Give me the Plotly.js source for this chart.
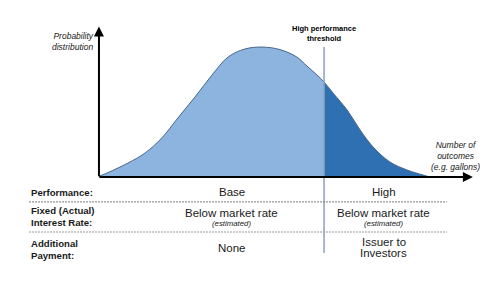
<!DOCTYPE html>
<html>
<head>
<meta charset="utf-8">
<script src="https://cdn.plot.ly/plotly-3.0.1.min.js"></script>
<style>html,body{margin:0;padding:0;background:#fff;}#chart{width:486px;height:296px;}</style>
</head>
<body>
<div id="chart"></div>
<script>
// Outcomes (x) and probability density (y)
const outcomes = [0, 1.6, 7.8, 12.4, 16.9, 21.2, 25.8, 30.4, 34.7, 39.2, 43.8, 48.7, 53.2, 55.9, 58.6, 60.5, 62.9, 66.7, 70.2, 73.7, 78.2, 82.8, 87.1, 89.0];
const probability = [0.005, 0.02, 0.092, 0.158, 0.257, 0.388, 0.526, 0.671, 0.789, 0.842, 0.855, 0.838, 0.789, 0.730, 0.671, 0.625, 0.553, 0.441, 0.309, 0.197, 0.099, 0.046, 0.013, 0.0];
const threshold = 60.5;

const rowLabels = ["Performance:", "Fixed (Actual)<br>Interest Rate:", "Additional<br>Payment:"];
const columnHeads = ["Base", "High"];
const rateText = ["Below market rate", "Below market rate"];
const rateNote = ["(estimated)", "(estimated)"];
const paymentText = [["None"], ["Issuer to", "Investors"]];

const baseX = [], baseY = [], highX = [], highY = [];
outcomes.forEach((x, i) => {
  if (x <= threshold) { baseX.push(x); baseY.push(probability[i]); }
  if (x >= threshold) { highX.push(x); highY.push(probability[i]); }
});

const traces = [
  {x: baseX, y: baseY, type: 'scatter', mode: 'lines', fill: 'tozeroy',
   fillcolor: '#8db4df', line: {color: '#8db4df', width: 0, shape: 'spline', smoothing: 1}, hoverinfo: 'skip'},
  {x: highX, y: highY, type: 'scatter', mode: 'lines', fill: 'tozeroy',
   fillcolor: '#2f70b3', line: {color: '#2f70b3', width: 0, shape: 'spline', smoothing: 1}, hoverinfo: 'skip'},
  {x: outcomes, y: probability, type: 'scatter', mode: 'lines',
   line: {color: '#46678e', width: 1, shape: 'spline', smoothing: 1}, hoverinfo: 'skip'}
];

const ink = '#1a1a1a';
const fam = 'Liberation Sans, Arial, sans-serif';
const colX = [35.75, 76.6];
const ann = [];
// axes arrows
ann.push({x: 0, y: 0.99, ax: 0, ay: -0.005, axref: 'x', ayref: 'y', xref: 'x', yref: 'y', text: '', showarrow: true, arrowhead: 2, arrowsize: 1, arrowwidth: 2, arrowcolor: '#000'});
ann.push({x: 100.5, y: 0, ax: -0.3, ay: 0, axref: 'x', ayref: 'y', xref: 'x', yref: 'y', text: '', showarrow: true, arrowhead: 2, arrowsize: 1, arrowwidth: 2, arrowcolor: '#000'});
// axis labels
ann.push({x: -0.8, y: 0.891, xanchor: 'right', yanchor: 'middle', align: 'right', showarrow: false,
  text: '<i>Probability<br>distribution</i>', font: {family: fam, size: 8.5, color: ink}});
ann.push({x: 95.7, y: 0.138, xanchor: 'center', yanchor: 'middle', align: 'center', showarrow: false,
  text: '<i>Number of<br>outcomes<br>(e.g. gallons)</i>', font: {family: fam, size: 8.5, color: ink}});
ann.push({x: threshold, y: 0.944, xanchor: 'center', yanchor: 'middle', align: 'center', showarrow: false,
  text: '<b>High performance<br>threshold</b>', font: {family: fam, size: 7.5, color: '#000'}});
// row labels
const rowY = [-0.099, -0.263, -0.474];
rowLabels.forEach((t, i) => ann.push({x: -18.8, y: rowY[i], xanchor: 'left', yanchor: 'middle', align: 'left', showarrow: false,
  text: '<b>' + t + '</b>', font: {family: fam, size: 9.6, color: ink}}));
// columns
columnHeads.forEach((t, i) => ann.push({x: colX[i], y: -0.099, xanchor: 'center', yanchor: 'middle', showarrow: false,
  text: t, font: {family: fam, size: 11.5, color: ink}}));
rateText.forEach((t, i) => ann.push({x: colX[i], y: -0.237, xanchor: 'center', yanchor: 'middle', showarrow: false,
  text: t, font: {family: fam, size: 11.5, color: ink}}));
rateNote.forEach((t, i) => ann.push({x: colX[i], y: -0.303, xanchor: 'center', yanchor: 'middle', showarrow: false,
  text: '<i>' + t + '</i>', font: {family: fam, size: 7.8, color: ink}}));
paymentText.forEach((lines, i) => {
  if (lines.length === 1) {
    ann.push({x: colX[i], y: -0.467, xanchor: 'center', yanchor: 'middle', showarrow: false,
      text: lines[0], font: {family: fam, size: 11.5, color: ink}});
  } else {
    const ys = [-0.428, -0.5];
    lines.forEach((t, j) => ann.push({x: colX[i], y: ys[j], xanchor: 'center', yanchor: 'middle', showarrow: false,
      text: t, font: {family: fam, size: 11.5, color: ink}}));
  }
});

const shapes = [
  {type: 'line', xref: 'x', yref: 'y', x0: threshold, x1: threshold, y0: -0.5, y1: 0.855, line: {color: '#8aa0bb', width: 1.5}},
  {type: 'line', xref: 'x', yref: 'y', x0: -18.8, x1: 93.5, y0: -0.164, y1: -0.164, line: {color: '#7a7a7a', width: 1, dash: '2px,1px'}},
  {type: 'line', xref: 'x', yref: 'y', x0: -18.8, x1: 93.5, y0: -0.362, y1: -0.362, line: {color: '#9a9a9a', width: 1, dash: '2px,1px'}}
];

const layout = {
  width: 486, height: 296,
  margin: {l: 0, r: 0, t: 0, b: 0},
  paper_bgcolor: '#fff', plot_bgcolor: '#fff',
  showlegend: false,
  xaxis: {range: [-26.6, 104.03], visible: false, fixedrange: true},
  yaxis: {range: [-0.783, 1.1645], visible: false, fixedrange: true},
  annotations: ann,
  shapes: shapes
};

Plotly.newPlot('chart', traces, layout, {staticPlot: true, displayModeBar: false});
</script>
</body>
</html>
